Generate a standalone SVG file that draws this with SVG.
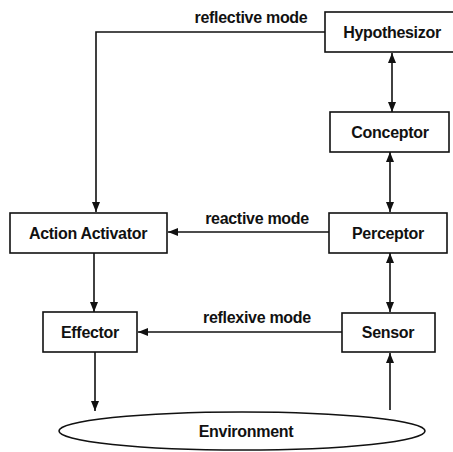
<svg xmlns="http://www.w3.org/2000/svg" width="453" height="452" viewBox="0 0 453 452">
<style>
.box{fill:#fff;stroke:#111;stroke-width:1.6}
.lbl{font-family:"Liberation Sans",Arial,sans-serif;font-weight:bold;font-size:16px;fill:#111;text-anchor:middle;letter-spacing:-0.3px}
.ln{fill:none;stroke:#111;stroke-width:1.6}
</style>
<defs>
<marker id="ah" viewBox="0 0 10 8" refX="10" refY="4" markerWidth="10" markerHeight="8" markerUnits="userSpaceOnUse" orient="auto-start-reverse">
<path d="M0,0 L10,4 L0,8 Z" fill="#111"/>
</marker>
</defs>
<rect width="453" height="452" fill="#fff"/>
<g id="connectors">
<path class="ln" d="M325,32 H96 V212" marker-end="url(#ah)"/>
<path class="ln" d="M392,53 V112" marker-start="url(#ah)" marker-end="url(#ah)"/>
<path class="ln" d="M390,152 V212" marker-start="url(#ah)" marker-end="url(#ah)"/>
<path class="ln" d="M329,232 H168" marker-end="url(#ah)"/>
<path class="ln" d="M390,253 V312" marker-start="url(#ah)" marker-end="url(#ah)"/>
<path class="ln" d="M94,253 V312" marker-end="url(#ah)"/>
<path class="ln" d="M342,332 H138" marker-end="url(#ah)"/>
<path class="ln" d="M95,352 V411" marker-end="url(#ah)"/>
<path class="ln" d="M390,410 V353" marker-end="url(#ah)"/>
<text class="lbl" x="251" y="23">reflective mode</text>
<text class="lbl" x="257" y="224">reactive mode</text>
<text class="lbl" x="257" y="323">reflexive mode</text>
</g>
<g id="hypothesizor">
<rect class="box" x="325" y="12" width="132" height="40"/>
<text class="lbl" x="392" y="38">Hypothesizor</text>
</g>
<g id="conceptor">
<rect class="box" x="330" y="112" width="119" height="40"/>
<text class="lbl" x="390" y="138">Conceptor</text>
</g>
<g id="perceptor">
<rect class="box" x="329" y="213" width="118" height="40"/>
<text class="lbl" x="388" y="239">Perceptor</text>
</g>
<g id="action-activator">
<rect class="box" x="10" y="213" width="157" height="40"/>
<text class="lbl" x="88" y="239">Action Activator</text>
</g>
<g id="effector">
<rect class="box" x="43" y="312" width="94" height="40"/>
<text class="lbl" x="90" y="338">Effector</text>
</g>
<g id="sensor">
<rect class="box" x="342" y="313" width="93" height="39"/>
<text class="lbl" x="388" y="338">Sensor</text>
</g>
<g id="environment">
<ellipse class="box" cx="242" cy="431" rx="183" ry="19"/>
<text class="lbl" x="246" y="437">Environment</text>
</g>
</svg>
